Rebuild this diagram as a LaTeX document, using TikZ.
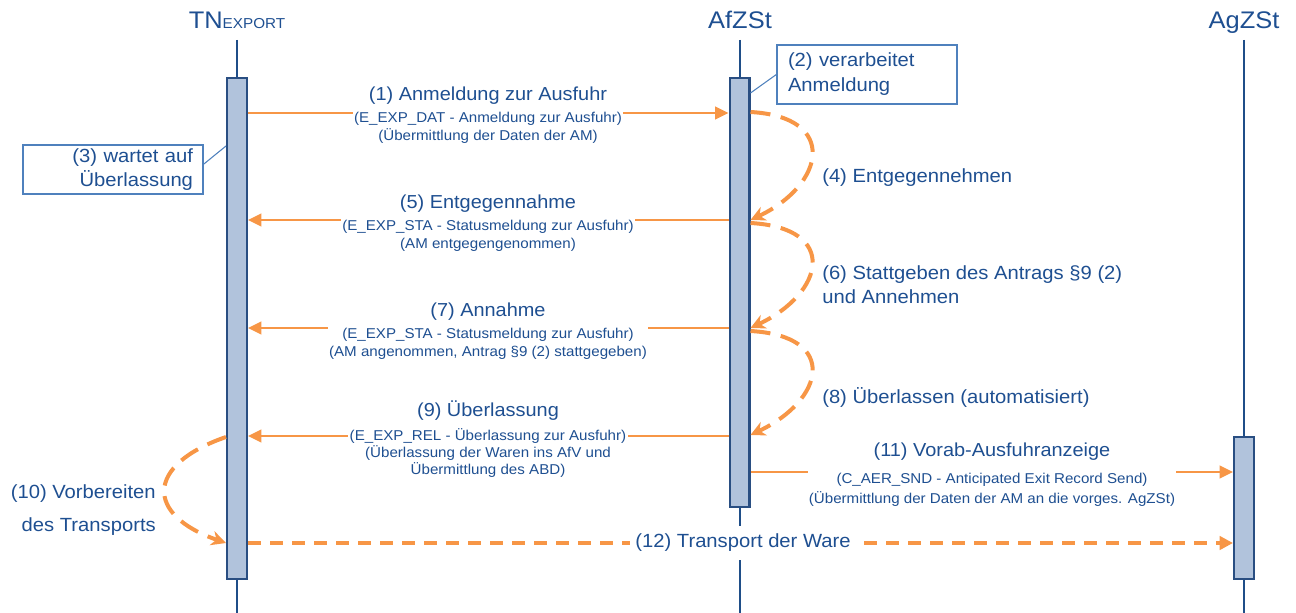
\documentclass[tikz,border=0pt]{standalone}
\usepackage{fontspec}
\setmainfont{Liberation Sans}[FakeStretch=1.06]
\usetikzlibrary{arrows.meta}
\definecolor{lifeblue}{HTML}{1F4E88}
\definecolor{actfill}{HTML}{B1C3DC}
\definecolor{actedge}{HTML}{294E82}
\definecolor{msgorange}{HTML}{F79646}
\definecolor{txtblue}{HTML}{1E4F91}
\definecolor{noteedge}{HTML}{4F81BD}
\newcommand\headfont{\fontsize{18}{20}\selectfont}
\newcommand\capsfont{\fontsize{10.8}{12}\selectfont}
\newcommand\msgtitle[1]{{\fontsize{14.1}{17}\selectfont #1}}
\newcommand\subfont{\fontsize{10.7}{13.5}\selectfont}
\newcommand\labfont{\fontsize{14.3}{18}\selectfont}

\begin{document}
\begin{tikzpicture}[x=0.75pt, y=-0.75pt,
  lifeline/.style={draw=lifeblue, line width=1.5pt},
  actbox/.style={draw=actedge, fill=actfill, line width=1.8pt, inner sep=0pt, minimum width=14.7pt},
  headlabel/.style={text=txtblue, font=\headfont, anchor=base, inner sep=0pt},
  msgline/.style={draw=msgorange, line width=1.7pt, -{Triangle[length=10pt,width=9.5pt]}},
  msglabel/.style={text=txtblue, font=\subfont, align=center, fill=white, inner xsep=1pt, inner ysep=1pt, anchor=north},
  selfcall/.style={draw=msgorange, line width=3pt, dash pattern=on 15pt off 8pt, -{Stealth[length=11pt,width=11pt,inset=3.5pt]}},
  transport/.style={draw=msgorange, line width=3pt, dash pattern=on 10pt off 6.5pt, -{Triangle[length=10pt,width=10pt]}},
  steplabel/.style={text=txtblue, font=\labfont, inner sep=0pt},
  notebox/.style={draw=noteedge, line width=1pt, fill=white, text=txtblue, font=\labfont, inner ysep=0pt},
  noteline/.style={draw=noteedge, line width=0.8pt},
]
\useasboundingbox (0,0) rectangle (1296,613);

% participants
\node[headlabel] (tnh) at (237,29) {TN{\capsfont EXPORT}};
\node[headlabel] (afh) at (740,29) {AfZSt};
\node[headlabel] (agh) at (1244,29) {AgZSt};
\coordinate (tnend) at (237,613);
\coordinate (afend) at (740,613);
\coordinate (agend) at (1244,613);
\draw[lifeline] (tnh.base |- 0,40) -- (tnend);
\draw[lifeline] (afh.base |- 0,40) -- (afend);
\draw[lifeline] (agh.base |- 0,40) -- (agend);

% activation bars
\node[actbox, minimum height=375.5pt] (tnact) at (237,328.5) {};
\node[actbox, minimum height=321.5pt] (afact) at (739.5,292.5) {};
\node[actbox, minimum height=106.2pt] (agact) at (1244,508) {};

% notes
\node[notebox, text width=120pt, align=right, inner xsep=7.5pt, minimum height=36.75pt] (n3) at (113,169.5) {(3) wartet auf\\ Überlassung};
\draw[noteline] ([yshift=4pt]n3.east) -- (tnact.west |- 0,146);
\node[notebox, text width=118.5pt, align=left, inner xsep=8.25pt, minimum height=44.25pt, font=\fontsize{14.3}{18.75}\selectfont] (n2) at (867,74.5) {(2) verarbeitet\\ Anmeldung};
\draw[noteline] (n2.west) -- (afact.east |- 0,93);

% messages
\draw[msgline] (tnact.east |- 0,113) -- (afact.west |- 0,113);
\node[msglabel] (m1) at (488,85.6) {\msgtitle{(1) Anmeldung zur Ausfuhr}\\[3pt] (E\_EXP\_DAT - Anmeldung zur Ausfuhr)\\ (Übermittlung der Daten der AM)};

\draw[msgline] (afact.west |- 0,220) -- (tnact.east |- 0,220);
\node[msglabel] (m5) at (488,193.6) {\msgtitle{(5) Entgegennahme}\\[3pt] (E\_EXP\_STA - Statusmeldung zur Ausfuhr)\\ (AM entgegengenommen)};

\draw[msgline] (afact.west |- 0,328) -- (tnact.east |- 0,328);
\node[msglabel] (m7) at (488,301.6) {\msgtitle{(7) Annahme}\\[3pt] (E\_EXP\_STA - Statusmeldung zur Ausfuhr)\\ (AM angenommen, Antrag §9 (2) stattgegeben)};

\draw[msgline] (afact.west |- 0,436) -- (tnact.east |- 0,436);
\node[msglabel, font=\fontsize{10.7}{12.5}\selectfont] (m9) at (488,399.6) {\msgtitle{(9) Überlassung}\\[5.5pt] (E\_EXP\_REL - Überlassung zur Ausfuhr)\\ (Überlassung der Waren ins AfV und\\ Übermittlung des ABD)};

\draw[msgline] (afact.east |- 0,472) -- (agact.west |- 0,472);
\node[msglabel, font=\fontsize{10.7}{15}\selectfont] (m11) at (992,441.6) {\msgtitle{(11) Vorab-Ausfuhranzeige}\\[5.25pt] (C\_AER\_SND - Anticipated Exit Record Send)\\ (Übermittlung der Daten der AM an die vorges. AgZSt)};

% internal steps
\draw[selfcall] (afact.east |- 0,112) .. controls +(89,5) and +(74,-35) .. (afact.east |- 0,220);
\node[steplabel, anchor=west] (l4) at (822,178) {(4) Entgegennehmen};
\draw[selfcall] (afact.east |- 0,223) .. controls +(89,5) and +(74,-35) .. (afact.east |- 0,328);
\node[steplabel, anchor=west, align=left] (l6) at (822,285) {(6) Stattgeben des Antrags §9 (2)\\ und Annehmen};
\draw[selfcall] (afact.east |- 0,331) .. controls +(89,5) and +(74,-35) .. (afact.east |- 0,435);
\node[steplabel, anchor=west] (l8) at (822,397) {(8) Überlassen (automatisiert)};
\draw[selfcall] (tnact.west |- 0,437) .. controls +(-81,28) and +(-81,-28) .. (tnact.west |- 0,543);
\node[steplabel, anchor=east, align=right, font=\fontsize{14.3}{24.75}\selectfont] (l10) at (156,510) {(10) Vorbereiten\\ des Transports};

% transport of the goods
\draw[transport] (tnact.east |- 0,543) -- (agact.west |- 0,543);
\node[steplabel, fill=white, inner xsep=4pt, inner ysep=6pt] (l12) at (743,543) {(12) Transport der Ware};
\end{tikzpicture}
\end{document}
